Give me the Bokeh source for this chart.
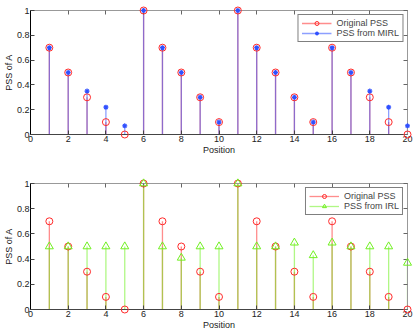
from bokeh.plotting import figure
from bokeh.layouts import column
from bokeh.models import Range1d, LinearAxis, FixedTicker, Legend, LegendItem, ColumnDataSource
from bokeh.embed import file_html
from bokeh.resources import INLINE

positions = list(range(1, 21))
original_pss = [0.7, 0.5, 0.3, 0.1, 0.0, 1.0, 0.7, 0.5, 0.3, 0.1,
                1.0, 0.7, 0.5, 0.3, 0.1, 0.7, 0.5, 0.3, 0.1, 0.0]
mirl_pss = [0.7, 0.5, 0.35, 0.22, 0.07, 1.0, 0.7, 0.5, 0.3, 0.1,
            1.0, 0.7, 0.5, 0.3, 0.1, 0.7, 0.5, 0.35, 0.22, 0.07]
irl_pss = [0.5, 0.5, 0.5, 0.5, 0.5, 1.0, 0.5, 0.41, 0.5, 0.5,
           1.0, 0.5, 0.5, 0.53, 0.43, 0.53, 0.5, 0.5, 0.5, 0.37]
x_ticks = [0, 2, 4, 6, 8, 10, 12, 14, 16, 18, 20]
y_ticks = [0, 0.2, 0.4, 0.6, 0.8, 1.0]

FONT = "Liberation Sans"
RED = "#ff2a2a"
BLUE = "#3050ff"
GREEN = "#70f020"


def make_fig(height, top, bottom, other_vals, other_color, other_marker, other_label):
    p = figure(width=413, height=height, output_backend="svg", toolbar_location=None,
               x_range=Range1d(0, 20), y_range=Range1d(0, 1),
               min_border_left=29, min_border_right=6,
               min_border_top=top, min_border_bottom=bottom)
    p.xgrid.visible = False
    p.ygrid.visible = False
    p.outline_line_color = "#999999"
    p.background_fill_color = "white"
    p.border_fill_color = "white"
    for ax in (p.xaxis[0], p.yaxis[0]):
        ax.major_tick_in = 4
        ax.major_tick_out = 0
        ax.minor_tick_in = 0
        ax.minor_tick_out = 0
        ax.major_label_text_font = FONT
        ax.major_label_text_font_size = "9px"
        ax.major_label_text_color = "#222222"
        ax.major_label_text_line_height = 1.0
        ax.axis_label_text_font = FONT
        ax.axis_label_text_font_size = "9px"
        ax.axis_label_text_font_style = "normal"
        ax.axis_label_text_color = "#222222"
        ax.axis_label_text_line_height = 1.0
        ax.major_label_standoff = 1
        ax.axis_label_standoff = 0
    p.xaxis[0].ticker = FixedTicker(ticks=x_ticks)
    p.yaxis[0].ticker = FixedTicker(ticks=y_ticks)
    p.xaxis[0].axis_label = "Position"
    p.yaxis[0].axis_label = "PSS of A"
    p.yaxis[0].axis_line_color = "black"
    p.xaxis[0].axis_line_color = "#444444"
    p.xaxis[0].major_tick_line_color = "#444444"
    p.yaxis[0].major_tick_line_color = "#444444"
    # box ticks on top/right
    for loc, tick in (("above", x_ticks), ("right", y_ticks)):
        ax = LinearAxis(ticker=FixedTicker(ticks=tick), major_tick_in=4, major_tick_out=0,
                        minor_tick_in=0, minor_tick_out=0,
                        major_label_overrides={t: "" for t in tick},
                        major_label_text_font_size="1px", major_label_standoff=0,
                        axis_line_color="#999999", major_tick_line_color="#666666")
        p.add_layout(ax, loc)

    src_o = ColumnDataSource(dict(x=positions, y=original_pss, y0=[0] * 20))
    src_b = ColumnDataSource(dict(x=positions, y=other_vals, y0=[0] * 20))
    seg_o = p.segment(x0="x", y0="y0", x1="x", y1="y", source=src_o,
                      line_color="#ff3030", line_alpha=0.55, line_width=1.3)
    seg_b = p.segment(x0="x", y0="y0", x1="x", y1="y", source=src_b,
                      line_color=other_color, line_alpha=0.55, line_width=1.3)
    sc_o = p.scatter("x", "y", source=src_o, marker="circle", size=7,
                     fill_color=None, line_color=RED, line_width=1, level="overlay")
    if other_marker == "asterisk":
        sc_b = p.scatter("x", "y", source=src_b, marker="asterisk", size=5,
                         line_color=other_color, line_width=1.2, level="overlay")
    else:
        sc_b = p.scatter("x", "y", source=src_b, marker="triangle", size=8,
                         fill_color=None, line_color=other_color, line_width=1, level="overlay")
    legend = Legend(items=[LegendItem(label="Original PSS", renderers=[seg_o, sc_o]),
                           LegendItem(label=other_label, renderers=[seg_b, sc_b])],
                    location="top_right", border_line_color="black", border_line_width=1,
                    background_fill_alpha=1, label_text_font=FONT, label_text_font_size="9px",
                    label_height=10, glyph_height=10, glyph_width=30, spacing=0,
                    padding=3, margin=4, label_standoff=5)
    p.add_layout(legend)
    return p


p1 = make_fig(162, 10, 28, mirl_pss, BLUE, "asterisk", "PSS from MIRL")
p2 = make_fig(170, 21, 22, irl_pss, GREEN, "triangle", "PSS from IRL")

layout = column(p1, p2, spacing=0)
open("out.html", "w").write(file_html(layout, INLINE))
